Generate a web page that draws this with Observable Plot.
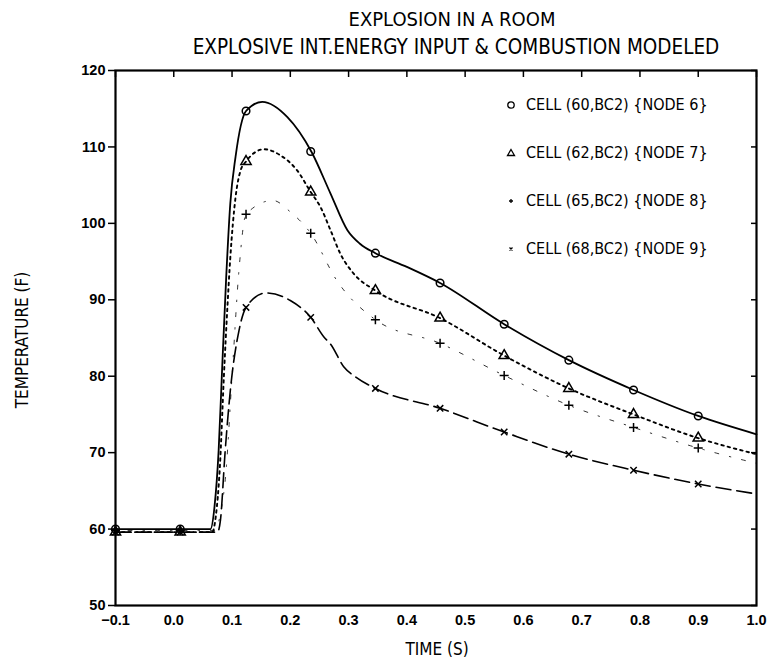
<!DOCTYPE html>
<html><head><meta charset="utf-8">
<script src="https://cdn.jsdelivr.net/npm/d3@7"></script>
<script src="https://cdn.jsdelivr.net/npm/@observablehq/plot@0.6"></script>
<style>
body{margin:0;background:#fff;}
#wrap{position:relative;width:770px;height:664px;overflow:hidden;}
#wrap svg g[aria-label$="tick label"]{font-size:14.5px !important;font-weight:bold !important;font-family:"Liberation Sans",Arial,sans-serif !important;}
.t{position:absolute;font-family:"Liberation Sans Narrow","DejaVu Sans Condensed","Liberation Sans",sans-serif;font-stretch:condensed;color:#000;white-space:nowrap;line-height:1;}
.leg{position:absolute;left:504px;font-family:"Liberation Sans Narrow","DejaVu Sans Condensed","Liberation Sans",sans-serif;font-stretch:condensed;font-size:16px;line-height:1;white-space:nowrap;display:flex;align-items:center;}
.leg svg{margin-right:8px;}
</style></head><body>
<div id="wrap"></div>
<script>
// ---- data ----
const titleLines = ["EXPLOSION IN A ROOM", "EXPLOSIVE INT.ENERGY INPUT & COMBUSTION MODELED"];
const xLabel = "TIME (S)";
const yLabel = "TEMPERATURE (F)";
const xTicks = [-0.1, 0.0, 0.1, 0.2, 0.3, 0.4, 0.5, 0.6, 0.7, 0.8, 0.9, 1.0];
const yTicks = [50, 60, 70, 80, 90, 100, 110, 120];
const seriesNames = ["CELL (60,BC2) {NODE 6}", "CELL (62,BC2) {NODE 7}", "CELL (65,BC2) {NODE 8}", "CELL (68,BC2) {NODE 9}"];

// marker positions (shared time stamps)
const markerT = [-0.1, 0.011, 0.124, 0.235, 0.346, 0.457, 0.567, 0.678, 0.789, 0.9];
const marker6 = [60, 60, 114.7, 109.4, 96.1, 92.2, 86.8, 82.1, 78.2, 74.8];
const marker7 = [59.6, 59.6, 108.1, 104.1, 91.2, 87.6, 82.7, 78.4, 75.0, 71.9];
const marker8 = [59.8, 59.8, 101.2, 98.7, 87.4, 84.3, 80.1, 76.2, 73.3, 70.6];
const marker9 = [59.6, 59.6, 89.0, 87.7, 78.4, 75.8, 72.7, 69.8, 67.7, 65.9];

// curve traces
const t6 = [-0.1, 0.011, 0.063, 0.070, 0.077, 0.083, 0.090, 0.097, 0.106, 0.124, 0.152, 0.195, 0.236, 0.269, 0.298, 0.320, 0.346, 0.400, 0.457, 0.567, 0.678, 0.789, 0.900, 1.0];
const v6 = [60, 60, 60, 63, 70.3, 81, 93, 102.6, 108.7, 114.7, 115.9, 113.9, 109.4, 103.9, 99.1, 97.3, 96.1, 94.3, 92.2, 86.8, 82.1, 78.2, 74.8, 72.4];
const t7 = [-0.1, 0.011, 0.066, 0.072, 0.079, 0.086, 0.092, 0.097, 0.106, 0.115, 0.124, 0.155, 0.183, 0.212, 0.235, 0.252, 0.269, 0.286, 0.309, 0.346, 0.457, 0.567, 0.678, 0.789, 0.900, 1.0];
const v7 = [59.6, 59.6, 59.6, 61.6, 68, 80, 89, 95.5, 103.4, 107, 108.1, 109.7, 108.9, 106.9, 104.1, 102.1, 99.1, 96.0, 93.4, 91.2, 87.6, 82.7, 78.4, 75.0, 71.9, 69.8];
const t8 = [-0.1, 0.011, 0.070, 0.080, 0.089, 0.100, 0.112, 0.124, 0.170, 0.200, 0.235, 0.280, 0.346, 0.457, 0.567, 0.678, 0.789, 0.900, 1.0];
const v8 = [59.8, 59.8, 59.8, 62, 67, 80, 94, 101.2, 103, 101.5, 98.7, 92.5, 87.4, 84.3, 80.1, 76.2, 73.3, 70.6, 68.6];
const t9 = [-0.1, 0.011, 0.075, 0.080, 0.088, 0.097, 0.112, 0.124, 0.158, 0.200, 0.235, 0.258, 0.269, 0.292, 0.312, 0.346, 0.457, 0.567, 0.678, 0.789, 0.900, 1.0];
const v9 = [59.6, 59.6, 59.6, 61.1, 70, 78.1, 86.0, 89.0, 90.9, 89.9, 87.7, 85.1, 84.2, 81.2, 79.9, 78.4, 75.8, 72.7, 69.8, 67.7, 65.9, 64.6];

// ---- build tables ----
const curves = [[t6, v6], [t7, v7], [t8, v8], [t9, v9]];
const markers = [marker6, marker7, marker8, marker9];
const lineStyles = [
  {strokeWidth: 1.8, strokeDasharray: null},
  {strokeWidth: 1.9, strokeDasharray: "2.5,4"},
  {strokeWidth: 1.0, strokeDasharray: "1.5,11,4,11", strokeOpacity: 0.8},
  {strokeWidth: 1.6, strokeDasharray: "15,6"}
];
const symbols = ["circle", "triangle", "plus", "times"];
const lineData = curves.map(([t, v]) => t.map((x, i) => ({x, y: v[i]})));
const markData = markers.map(m => markerT.map((x, i) => ({x, y: m[i]})));

const font = `"Liberation Sans Narrow","DejaVu Sans Condensed","Liberation Sans",sans-serif`;

const marks = [
  Plot.frame({strokeWidth: 2.2}),
  Plot.axisY(yTicks, {anchor: "left", tickSize: 7, tickPadding: 3, tickFormat: d => String(d), label: null, strokeWidth: 1.5}),
  Plot.axisY(yTicks, {anchor: "right", tickSize: 6, dx: -6, tickFormat: () => "", label: null, strokeWidth: 1.5}),
  Plot.axisX(xTicks, {anchor: "top", tickSize: 6, dy: 6, tickFormat: () => "", label: null, strokeWidth: 1.5}),
  Plot.axisX(xTicks, {anchor: "bottom", tickSize: 0, tickPadding: 9, tickFormat: d => d.toFixed(1).replace("-", "\u2212"), label: null})
];
lineData.forEach((d, i) => {
  marks.push(Plot.line(d, {x: "x", y: "y", curve: "monotone-x", stroke: "black", ...lineStyles[i]}));
});
markData.forEach((d, i) => {
  marks.push(Plot.dot(d, {x: "x", y: "y", symbol: () => symbols[i], r: i >= 2 ? 3 : 3.8, stroke: "black", strokeWidth: 1.5, fill: "none"}));
});

const chart = Plot.plot({
  width: 770, height: 664,
  marginLeft: 115, marginRight: 14, marginTop: 70, marginBottom: 59,
  x: {domain: [-0.1, 1.0]},
  y: {domain: [50, 120]},
  symbol: {type: "identity"},
  style: {background: "white", color: "black", fontFamily: font},
  marks
});
const wrap = document.getElementById("wrap");
wrap.appendChild(chart);
chart.style.position = "absolute"; chart.style.left = "0"; chart.style.top = "0";

function addText(txt, css) {
  const d = document.createElement("div");
  d.className = "t"; d.textContent = txt;
  Object.assign(d.style, css);
  wrap.appendChild(d);
  return d;
}
addText(titleLines[0], {left: "452px", top: "9px", fontSize: "20px", transform: "translateX(-50%)"});
addText(titleLines[1], {left: "456px", top: "37px", fontSize: "20.5px", transform: "translateX(-50%)"});
addText(xLabel, {left: "437px", top: "641px", fontSize: "17px", transform: "translateX(-50%)"});
addText(yLabel, {left: "22px", top: "340px", fontSize: "17px", transform: "translate(-50%,-50%) rotate(-90deg)"});

// legend
const legendTop = [97, 145, 193, 241];
const symbolPaths = {
  circle: '<circle cx="7" cy="7" r="3.2" fill="none" stroke="black" stroke-width="1.3"/>',
  triangle: '<path d="M7,3.5 L10.5,9.5 L3.5,9.5 Z" fill="none" stroke="black" stroke-width="1.3"/>',
  plus: '<path d="M7,5 V9 M5,7 H9" stroke="black" stroke-width="1.3"/>',
  times: '<path d="M5.5,5.5 L8.5,8.5 M8.5,5.5 L5.5,8.5" stroke="black" stroke-width="1.3"/>'
};
seriesNames.forEach((name, i) => {
  const row = document.createElement("div");
  row.className = "leg";
  row.style.top = legendTop[i] + "px";
  row.innerHTML = `<svg width="14" height="14">${symbolPaths[symbols[i]]}</svg><span></span>`;
  row.querySelector("span").textContent = name;
  wrap.appendChild(row);
});
</script>
</body></html>
